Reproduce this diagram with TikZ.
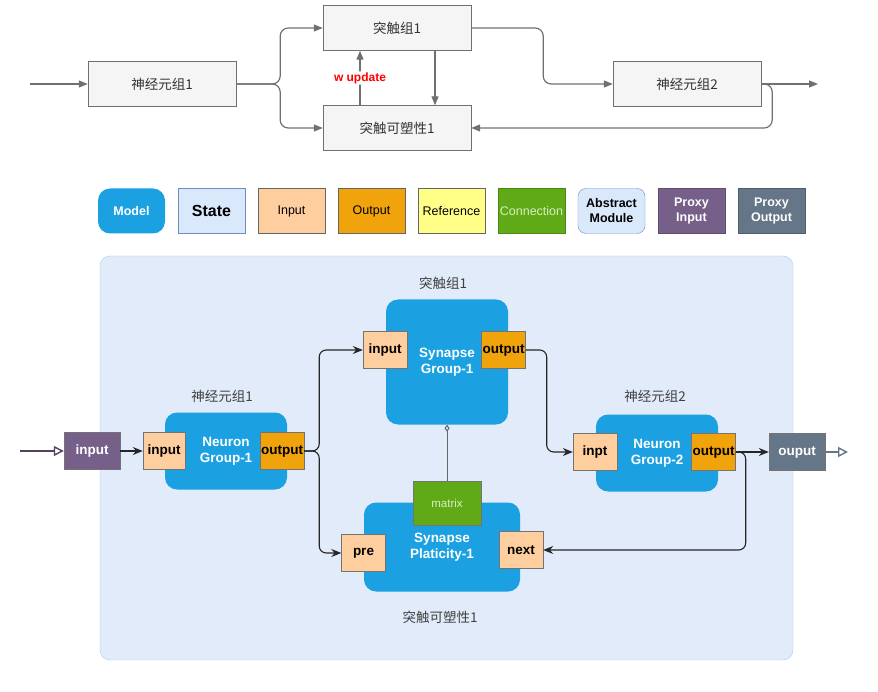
\documentclass[tikz,border=0pt]{standalone}
\usepackage{fontspec}
\setmainfont{Liberation Sans}
\newfontfamily\cjk{Noto Sans CJK SC}
\usetikzlibrary{arrows.meta}

\definecolor{boxgray}{HTML}{F5F5F5}
\definecolor{linegray}{HTML}{707070}
\definecolor{modelblue}{HTML}{1BA1E2}
\definecolor{statefill}{HTML}{DAE8FC}
\definecolor{stateline}{HTML}{6C8EBF}
\definecolor{infill}{HTML}{FFCE9F}
\definecolor{outfill}{HTML}{F0A30A}
\definecolor{reffill}{HTML}{FFFF88}
\definecolor{connfill}{HTML}{60A917}
\definecolor{conntext}{HTML}{D8F0C0}
\definecolor{pinfill}{HTML}{76608A}
\definecolor{poutfill}{HTML}{647687}
\definecolor{bgfill}{HTML}{E1EBF9}
\definecolor{bgline}{HTML}{B3CAEC}

\begin{document}
\begin{tikzpicture}[x=1pt,y=-1pt,
  blk/.style={draw=linegray,fill=boxgray,minimum width=148pt,minimum height=45pt,font=\cjk\fontsize{13.5}{15}\selectfont,text=black!80},
  flow/.style={-{Triangle[length=9pt,width=7pt]},draw=linegray,line width=1.2pt,rounded corners=8pt},
  legend/.style={draw=black!60,minimum width=67pt,minimum height=45pt,font=\fontsize{12.5}{15}\selectfont,align=center,inner sep=1pt},
  model/.style={fill=modelblue,rounded corners=12pt,text=white,font=\bfseries\fontsize{13.5}{16}\selectfont,align=center},
  port/.style={draw=black!55,minimum width=44pt,minimum height=37pt,font=\bfseries\fontsize{13.5}{16}\selectfont,inner sep=0pt},
  wire/.style={-{Stealth[length=10pt,width=8pt]},draw=black!85,line width=1.1pt,rounded corners=7pt},
  proxy/.style={-{Triangle[open,length=10pt,width=10pt]},line width=1.4pt},
  grp/.style={font=\cjk\fontsize{13.5}{15}\selectfont,text=black!75}]
\useasboundingbox (0,0) rectangle (878,692);

% overview
\node[blk] at (162,84) (tn1) {神经元组1};
\node[blk] at (397,28) (ts1) {突触组1};
\node[blk] at (397,128) (tp1) {突触可塑性1};
\node[blk] at (687,84) (tn2) {神经元组2};
\coordinate (tin) at (30,84);
\coordinate (tout) at (818,84);
\draw[flow] (tin) -- (tn1);
\draw[flow] (tn2) -- (tout);
\draw[flow] (tn1.east) -- ++(44,0) |- (ts1.west);
\draw[flow] (tn1.east) -- ++(44,0) |- (tp1.west);
\draw[flow] (ts1.east) -- ++(72,0) |- (tn2.west);
\draw[flow] (tn2.east) -- ++(11,0) |- (tp1.east);
\draw[flow] ([xshift=38pt]ts1.south) -- ([xshift=38pt]tp1.north);
\draw[flow] ([xshift=-37pt]tp1.north) -- node[fill=white,text=red,inner sep=1pt,font=\bfseries\fontsize{12}{14}\selectfont](wup){w update} ([xshift=-37pt]ts1.south);

% legend
\node[legend,model,draw=none,font=\bfseries\fontsize{12.5}{15}\selectfont] at (131.5,211) (lmodel) {Model};
\node[legend,fill=statefill,draw=stateline,font=\bfseries\fontsize{16}{18}\selectfont] at (211.5,211) (lstate) {State};
\node[legend,fill=infill] at (291.5,211) (linput) {Input};
\node[legend,fill=outfill] at (371.5,211) (loutput) {Output};
\node[legend,fill=reffill] at (451.5,211) (lref) {Reference};
\node[legend,fill=connfill,text=conntext,draw=connfill!80!black] at (531.5,211) (lconn) {Connection};
\node[legend,fill=statefill,draw=stateline,rounded corners=8pt,font=\bfseries\fontsize{12.5}{15}\selectfont] at (611.5,211) (labs) {Abstract\\Module};
\node[legend,fill=pinfill,text=white,draw=pinfill!80!black,font=\bfseries\fontsize{12.5}{15}\selectfont] at (691.5,211) (lpin) {Proxy\\Input};
\node[legend,fill=poutfill,text=white,draw=poutfill!80!black,font=\bfseries\fontsize{12.5}{15}\selectfont] at (771.5,211) (lpout) {Proxy\\Output};

% detailed view
\node[draw=bgline,fill=bgfill,rounded corners=10pt,minimum width=693pt,minimum height=404pt] at (446.5,458) (canvas) {};
\node[grp] at (443,283) (lsg) {突触组1};
\node[grp] at (222,396) (lng1) {神经元组1};
\node[grp] at (655,396) (lng2) {神经元组2};
\node[grp] at (440,617) (lsp) {突触可塑性1};

\node[model,minimum width=122pt,minimum height=77pt] at (226,451) (ng1) {Neuron\\Group-1};
\node[model,minimum width=122pt,minimum height=125pt] at (447,362) (sg1) {Synapse\\Group-1};
\node[model,minimum width=156pt,minimum height=89pt] at (442,547) (sp1) {Synapse\\Platicity-1};
\node[model,minimum width=122pt,minimum height=77pt] at (657,453) (ng2) {Neuron\\Group-2};

\node[port,fill=pinfill,text=white,minimum width=56pt] at (92,451) (pin) {input};
\node[port,fill=infill,minimum width=42pt] at (164,451) (ng1in) {input};
\node[port,fill=outfill] at (282,451) (ng1out) {output};
\node[port,fill=infill] at (385,350) (sg1in) {input};
\node[port,fill=outfill] at (503.5,350) (sg1out) {output};
\node[port,fill=connfill,minimum width=68pt,minimum height=44pt,text=conntext,font=\fontsize{11.5}{13}\selectfont] at (447,503) (mat) {matrix};
\node[port,fill=infill] at (363.5,553) (pre) {pre};
\node[port,fill=infill] at (521,550) (next) {next};
\node[port,fill=infill] at (595,452) (ng2in) {inpt};
\node[port,fill=outfill] at (713.5,452) (ng2out) {output};
\node[port,fill=poutfill,text=white,minimum width=56pt] at (797,452) (pout) {ouput};
\coordinate (pinsrc) at (20,451);
\coordinate (poutdst) at (848,452);

\draw[proxy,draw=pinfill!70!black] (pinsrc) -- (pin);
\draw[wire] (pin) -- (ng1in);
\draw[wire] (ng1out.east) -- ++(15,0) |- (sg1in.west);
\draw[wire] (ng1out.east) -- ++(15,0) |- (pre.west);
\draw[wire] (sg1out.east) -- ++(21,0) |- (ng2in.west);
\draw[-{Diamond[open,length=7pt,width=5pt]},draw=black!60,line width=1pt] (mat.north) -- (sg1.south);
\draw[wire] (ng2out) -- (pout);
\draw[wire] (ng2out.east) -- ++(10,0) |- (next.east);
\draw[proxy,draw=poutfill] (pout) -- (poutdst);

\end{tikzpicture}
\end{document}
